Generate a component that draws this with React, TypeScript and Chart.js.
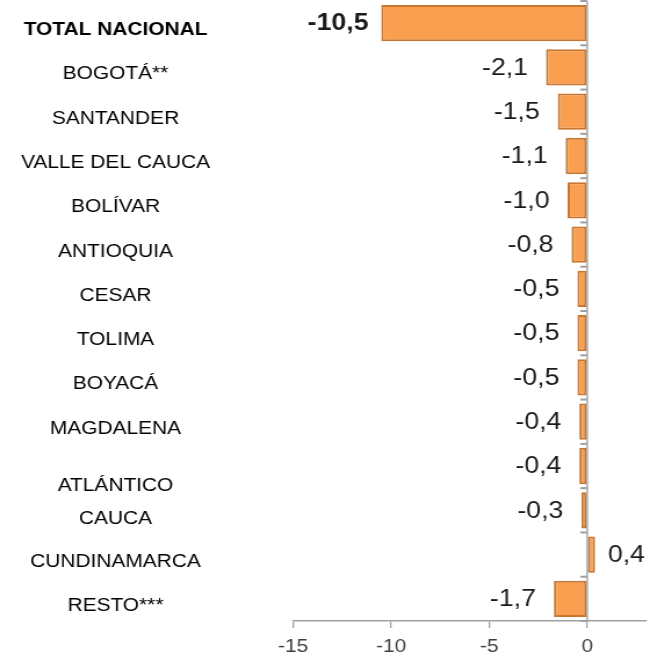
import React, { useEffect, useRef } from "react";
import { Chart, registerables } from "chart.js";

Chart.register(...registerables);

const categories = [
  "TOTAL NACIONAL",
  "BOGOTÁ**",
  "SANTANDER",
  "VALLE DEL CAUCA",
  "BOLÍVAR",
  "ANTIOQUIA",
  "CESAR",
  "TOLIMA",
  "BOYACÁ",
  "MAGDALENA",
  "ATLÁNTICO",
  "CAUCA",
  "CUNDINAMARCA",
  "RESTO***",
];

const values = [-10.5, -2.1, -1.5, -1.1, -1.0, -0.8, -0.5, -0.5, -0.5, -0.4, -0.4, -0.3, 0.4, -1.7];

const xTicks = [-15, -10, -5, 0];

const FONT = '"Liberation Sans", Arial, sans-serif';

// drawing surface is narrower than the displayed size; CSS widens it
const RENDER_W = 560;
const DISPLAY_W = 650;
const H = 656;
const AXIS_GRAY = "#a0a0a0";

const fmt = (v: number) => v.toFixed(1).replace(".", ",");

const dataLabelPlugin = {
  id: "dataLabels",
  afterDatasetsDraw(chart: any) {
    const ctx = chart.ctx;
    const meta = chart.getDatasetMeta(0);
    meta.data.forEach((bar: any, i: number) => {
      const v = values[i];
      const bold = i === 0;
      ctx.save();
      ctx.font = `${bold ? "bold " : ""}23px ${FONT}`;
      ctx.fillStyle = "#1a1a1a";
      ctx.textBaseline = "middle";
      if (v < 0) {
        ctx.textAlign = "right";
        ctx.fillText(fmt(v), bar.x - (bold ? 11 : 15.5), bar.y + 1);
      } else {
        ctx.textAlign = "left";
        ctx.fillText(fmt(v), bar.x + 11, bar.y + 1);
      }
      ctx.restore();
    });
  },
};

// short category tick marks on the zero line, like the value axis crossing
const zeroAxisTicksPlugin = {
  id: "zeroAxisTicks",
  afterDatasetsDraw(chart: any) {
    const ctx = chart.ctx;
    const xs = chart.scales.x;
    const ys = chart.scales.y;
    const x0 = xs.getPixelForValue(0);
    ctx.save();
    ctx.strokeStyle = AXIS_GRAY;
    ctx.lineWidth = 2;
    for (let i = 0; i <= categories.length; i++) {
      const y = ys.getPixelForValue(i - 0.5);
      ctx.beginPath();
      ctx.moveTo(x0 - 6, y);
      ctx.lineTo(x0, y);
      ctx.stroke();
    }
    ctx.beginPath();
    ctx.lineWidth = 1.4;
    ctx.moveTo(x0, chart.chartArea.top);
    ctx.lineTo(x0, chart.chartArea.bottom);
    ctx.stroke();
    ctx.restore();
  },
};

const zeroPad = (s: any) => {
  s.paddingTop = 0;
  s.paddingBottom = 0;
};

export default function App() {
  const ref = useRef<HTMLCanvasElement>(null);

  useEffect(() => {
    if (!ref.current) return;
    const chart = new Chart(ref.current, {
      type: "bar",
      data: {
        labels: categories,
        datasets: [
          {
            data: values,
            backgroundColor: "#FA9F4F",
            borderColor: "#C9772F",
            borderWidth: 2,
            borderSkipped: false,
            barPercentage: 0.82,
            categoryPercentage: 1,
          },
        ],
      },
      plugins: [zeroAxisTicksPlugin, dataLabelPlugin],
      options: {
        indexAxis: "y",
        animation: false,
        responsive: false,
        maintainAspectRatio: false,
        layout: { padding: { top: 1, right: 3.4, left: 0, bottom: 0 } },
        plugins: { legend: { display: false }, tooltip: { enabled: false } },
        scales: {
          x: {
            type: "linear",
            min: -15,
            max: 3,
            afterBuildTicks: (s: any) => {
              s.ticks = xTicks.map((v) => ({ value: v }));
            },
            afterFit: (s: any) => {
              s.height = 35;
            },
            ticks: {
              color: "#404040",
              font: { family: FONT, size: 18 },
              padding: 8,
              callback: (v: any) => String(v),
            },
            grid: {
              drawOnChartArea: false,
              tickLength: 7,
              tickColor: AXIS_GRAY,
              color: AXIS_GRAY,
              lineWidth: 1.3,
            },
            border: { display: true, color: AXIS_GRAY, width: 1.5 },
          },
          y: {
            type: "category",
            position: "left",
            offset: true,
            afterFit: (s: any) => {
              s.width = 252.4;
              zeroPad(s);
            },
            grid: { display: false, drawTicks: false, offset: true },
            border: { display: false },
            ticks: {
              crossAlign: "center",
              padding: 71.5,
              labelOffset: 7,
              color: "#000",
              autoSkip: false,
              font: (c: any) => ({
                family: FONT,
                size: 18,
                weight: c.index === 0 ? "bold" : "normal",
                lineHeight: c.index === 10 ? "26px" : c.index === 11 ? "4px" : 1.2,
              }),
              callback: (_v: any, i: number) =>
                i === 10 || i === 11 ? ["", categories[i]] : categories[i],
            },
          },
        },
      },
    });
    return () => chart.destroy();
  }, []);

  return (
    <div style={{ position: "fixed", left: 0, top: 0, width: DISPLAY_W, height: H }}>
      <canvas
        ref={ref}
        width={RENDER_W}
        height={H}
        style={{ width: DISPLAY_W, height: H, display: "block" }}
      />
    </div>
  );
}
